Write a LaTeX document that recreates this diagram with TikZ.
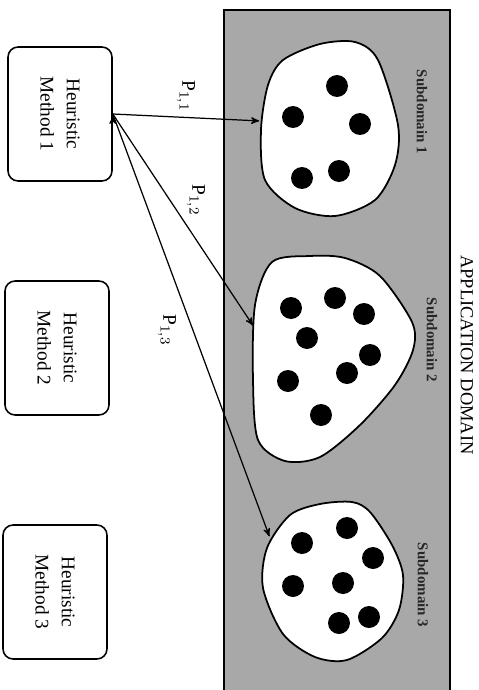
\documentclass[tikz,border=0pt]{standalone}
\usepackage{fontspec}
\setmainfont{Liberation Serif}
\usepackage{xcolor}
\usetikzlibrary{arrows}
\definecolor{domaingray}{gray}{0.66}

\tikzset{
  method/.style={draw,line width=0.9pt,rounded corners=0.2cm,rotate=-90,
    minimum width=2.68cm,minimum height=2.08cm,align=center,
    font=\fontsize{11}{15}\selectfont},
  sublabel/.style={rotate=-90,font=\fontsize{8.5}{10}\selectfont\bfseries,text=black!85},
  plabel/.style={rotate=-90,font=\fontsize{11}{13}\selectfont},
  blob/.style={fill=white,draw,line width=1pt},
  dot/.style={fill=black}
}

\begin{document}
\begin{tikzpicture}[->,>=stealth',shorten >=1pt,line width=0.7pt,x=0.02cm,y=-0.02cm]
		\useasboundingbox (0,0) rectangle (479,690);

		% application domain
		\fill[domaingray] (224,10) rectangle (450,692);
		\draw[-,line width=1.1pt] (224,692) -- (224,10) -- (450,10) -- (450,692);
		\node[rotate=-90,font=\fontsize{10.5}{12}\selectfont] (app) at (467,355) {APPLICATION DOMAIN};

		% subdomains
		\filldraw[-,blob] plot[smooth cycle] coordinates {(283,60) (320,44) (355,42) (378,60) (398,125) (395,165) (375,200) (335,216) (295,208) (265,180) (261,130) (268,85)};
		\filldraw[-,blob] plot[smooth cycle] coordinates {(272,262) (310,256) (345,258) (380,276) (412,322) (413,350) (395,385) (360,425) (320,457) (285,461) (258,440) (253,380) (255,305)};
		\filldraw[-,blob] plot[smooth cycle] coordinates {(290,515) (320,504) (352,502) (370,512) (392,545) (403,575) (399,610) (382,638) (347,660) (315,657) (283,634) (263,588) (267,548)};

		\foreach \p in {(337,86),(293,117),(360,124),(302,178),(339,171),
		                (291,308),(335,298),(364,314),(307,338),(370,355),(347,373),(288,381),(321,415),
		                (302,543),(347,528),(373,558),(293,586),(343,583),(369,617),(339,623)}
			\fill[dot] \p circle (0.22cm);

		\node[sublabel] (sd1) at (422,112) {Subdomain 1};
		\node[sublabel] (sd2) at (432,340) {Subdomain 2};
		\node[sublabel] (sd3) at (423,585) {Subdomain 3};

		% heuristic methods
		\node[method] (h1) at (60,114) {Heuristic\\Method 1};
		\node[method] (h2) at (57,348) {Heuristic\\Method 2};
		\node[method] (h3) at (55,592) {Heuristic\\Method 3};

		\coordinate (s1) at (261,121);
		\coordinate (s2) at (254,327);
		\coordinate (s3) at (270,538);

		\draw 	(h1.north) edge (s1)
				(h1.north) edge (s2)
				(h1.north) edge (s3);

		\node[plabel] (p11) at (186,96) {P$_{1,1}$};
		\node[plabel] (p12) at (196,200) {P$_{1,2}$};
		\node[plabel] (p13) at (167,330) {P$_{1,3}$};

		\end{tikzpicture}
\end{document}
